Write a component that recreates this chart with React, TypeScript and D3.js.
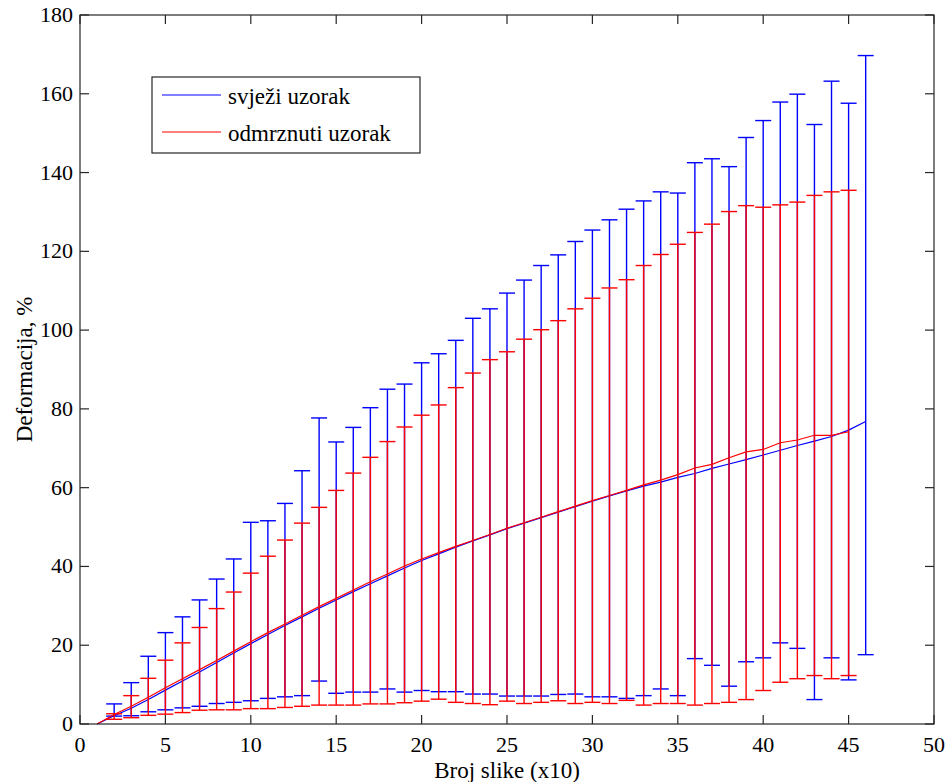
import React, { useEffect, useRef } from "react";
import * as d3 from "d3";

const xTicks = [0, 5, 10, 15, 20, 25, 30, 35, 40, 45, 50];
const yTicks = [0, 20, 40, 60, 80, 100, 120, 140, 160, 180];

const freshX = d3.range(1, 47);
const freshMean = [
  0, 2.1, 4.0, 6.2, 8.6, 10.9, 13.2, 15.6, 18.0, 20.4, 22.7, 25.0, 27.2, 29.4, 31.5, 33.6,
  35.6, 37.6, 39.6, 41.5, 43.2, 44.9, 46.5, 48.0, 49.6, 51.0, 52.4, 53.8, 55.2, 56.6, 57.9,
  59.2, 60.4, 61.4, 62.6, 63.6, 64.9, 66.0, 67.1, 68.3, 69.5, 70.7, 71.8, 73.0, 74.6, 76.8,
];
const freshUpper = [
  0, 5.1, 10.5, 17.2, 23.2, 27.2, 31.5, 36.8, 41.9, 51.2, 51.6, 56.0, 64.3, 77.7, 71.6, 75.3,
  80.3, 85.0, 86.3, 91.7, 94.0, 97.4, 103.0, 105.4, 109.4, 112.7, 116.4, 119.1, 122.5, 125.4,
  128.0, 130.7, 132.8, 135.1, 134.8, 142.5, 143.5, 141.5, 148.9, 153.2, 157.9, 159.9, 152.2,
  163.2, 157.6, 169.7,
];
const freshLower = [
  0, 2.0, 2.1, 3.1, 3.6, 4.1, 4.5, 5.2, 5.5, 5.9, 6.5, 6.9, 7.2, 10.9, 7.8, 8.1, 8.1, 8.9,
  8.1, 8.5, 8.2, 8.2, 7.6, 7.6, 7.1, 7.1, 7.1, 7.5, 7.6, 6.9, 6.9, 6.5, 7.2, 8.9, 7.2, 16.6,
  14.9, 9.6, 15.8, 16.8, 20.6, 19.2, 6.2, 16.8, 11.2, 17.6,
];

const thawedX = d3.range(1, 46);
const thawedMean = [
  0, 2.4, 4.5, 6.8, 9.2, 11.5, 13.8, 16.1, 18.5, 20.9, 23.2, 25.4, 27.6, 29.8, 31.9, 34.0,
  36.1, 38.1, 40.1, 41.9, 43.5, 45.1, 46.6, 48.1, 49.7, 51.1, 52.5, 53.9, 55.3, 56.7, 58.0,
  59.3, 60.7, 61.9, 63.3, 65.0, 65.9, 67.6, 69.1, 69.7, 71.4, 72.1, 73.3, 73.3, 74.2,
];
const thawedUpper = [
  0, 2.6, 7.2, 11.6, 16.2, 20.6, 24.5, 29.3, 33.5, 38.3, 42.6, 46.7, 51.0, 55.0, 59.3, 63.7,
  67.7, 71.7, 75.4, 78.4, 81.0, 85.4, 89.1, 92.5, 94.5, 97.7, 100.1, 102.4, 105.4, 108.1,
  110.7, 112.8, 116.4, 119.2, 121.8, 124.8, 126.9, 130.1, 131.6, 131.2, 131.8, 132.5, 134.2,
  135.1, 135.5,
];
const thawedLower = [
  0, 1.2, 1.6, 2.2, 2.5, 2.9, 3.5, 3.6, 3.6, 3.9, 3.9, 4.2, 4.5, 4.8, 4.8, 4.8, 5.1, 5.1,
  5.4, 5.8, 6.3, 5.5, 5.2, 4.9, 5.8, 5.2, 5.5, 5.9, 5.2, 5.5, 5.2, 6.0, 4.8, 5.2, 5.2, 4.8,
  5.2, 5.5, 6.2, 8.5, 10.6, 11.5, 12.3, 11.5, 12.3,
];

const seriesNames = ["svježi uzorak", "odmrznuti uzorak"];
const seriesColors = ["#0000ff", "#ff0000"];

export default function App() {
  const ref = useRef<SVGSVGElement>(null);

  useEffect(() => {
    const svg = d3.select(ref.current);
    svg.selectAll("*").remove();
    const W = 947, H = 782;
    const left = 80, right = 934, top = 15, bottom = 724;
    const x = d3.scaleLinear().domain([0, 50]).range([left, right]);
    const y = d3.scaleLinear().domain([0, 180]).range([bottom, top]);
    const font = "'Liberation Serif', 'Times New Roman', serif";

    svg.append("rect").attr("width", W).attr("height", H).attr("fill", "#ffffff");

    const series = [
      { xs: freshX, m: freshMean, u: freshUpper, l: freshLower, c: seriesColors[0] },
      { xs: thawedX, m: thawedMean, u: thawedUpper, l: thawedLower, c: seriesColors[1] },
    ];

    const cap = 8;
    series.forEach((s) => {
      const g = svg.append("g");
      const line = d3
        .line<number>()
        .x((_, i) => x(s.xs[i]))
        .y((d) => y(d));
      g.append("path")
        .attr("d", line(s.m) as string)
        .attr("fill", "none")
        .attr("stroke", s.c)
        .attr("stroke-width", 1.2);
      s.xs.forEach((xv, i) => {
        if (i === 0) return;
        const px = x(xv);
        g.append("line")
          .attr("x1", px).attr("x2", px)
          .attr("y1", y(s.l[i])).attr("y2", y(s.u[i]))
          .attr("stroke", s.c).attr("stroke-width", 1.4);
        [s.l[i], s.u[i]].forEach((v) => {
          g.append("line")
            .attr("x1", px - cap).attr("x2", px + cap)
            .attr("y1", y(v)).attr("y2", y(v))
            .attr("stroke", s.c).attr("stroke-width", 1.4);
        });
      });
    });

    // axes box
    const axisColor = "#262626";
    svg.append("rect")
      .attr("x", left).attr("y", top)
      .attr("width", right - left).attr("height", bottom - top)
      .attr("fill", "none").attr("stroke", axisColor).attr("stroke-width", 1.2);

    const tl = 9;
    xTicks.forEach((t) => {
      const px = x(t);
      svg.append("line").attr("x1", px).attr("x2", px).attr("y1", bottom).attr("y2", bottom - tl)
        .attr("stroke", axisColor).attr("stroke-width", 1.2);
      svg.append("line").attr("x1", px).attr("x2", px).attr("y1", top).attr("y2", top + tl)
        .attr("stroke", axisColor).attr("stroke-width", 1.2);
      svg.append("text").attr("x", px).attr("y", 752)
        .attr("text-anchor", "middle").attr("font-family", font).attr("font-size", 22)
        .attr("fill", "#000").text(String(t));
    });
    yTicks.forEach((t) => {
      const py = y(t);
      svg.append("line").attr("x1", left).attr("x2", left + tl).attr("y1", py).attr("y2", py)
        .attr("stroke", axisColor).attr("stroke-width", 1.2);
      svg.append("line").attr("x1", right).attr("x2", right - tl).attr("y1", py).attr("y2", py)
        .attr("stroke", axisColor).attr("stroke-width", 1.2);
      svg.append("text").attr("x", 73).attr("y", py + 7)
        .attr("text-anchor", "end").attr("font-family", font).attr("font-size", 22)
        .attr("fill", "#000").text(String(t));
    });

    svg.append("text").attr("x", (left + right) / 2).attr("y", 778)
      .attr("text-anchor", "middle").attr("font-family", font).attr("font-size", 23)
      .attr("fill", "#000").text("Broj slike (x10)");
    svg.append("text")
      .attr("transform", `translate(32,${(top + bottom) / 2}) rotate(-90)`)
      .attr("text-anchor", "middle").attr("font-family", font).attr("font-size", 23)
      .attr("fill", "#000").text("Deformacija, %");

    // legend
    const lg = svg.append("g");
    lg.append("rect").attr("x", 152).attr("y", 77).attr("width", 268).attr("height", 76)
      .attr("fill", "#fff").attr("stroke", axisColor).attr("stroke-width", 1.2);
    seriesNames.forEach((n, i) => {
      const ly = 95 + i * 37;
      lg.append("line").attr("x1", 162).attr("x2", 221).attr("y1", ly).attr("y2", ly)
        .attr("stroke", seriesColors[i]).attr("stroke-width", 1.2);
      lg.append("text").attr("x", 228).attr("y", ly + 9)
        .attr("font-family", font).attr("font-size", 23).attr("fill", "#000").text(n);
    });
  }, []);

  return (
    <svg
      ref={ref}
      width={947}
      height={782}
      style={{ position: "absolute", left: 0, top: 0 }}
    />
  );
}
